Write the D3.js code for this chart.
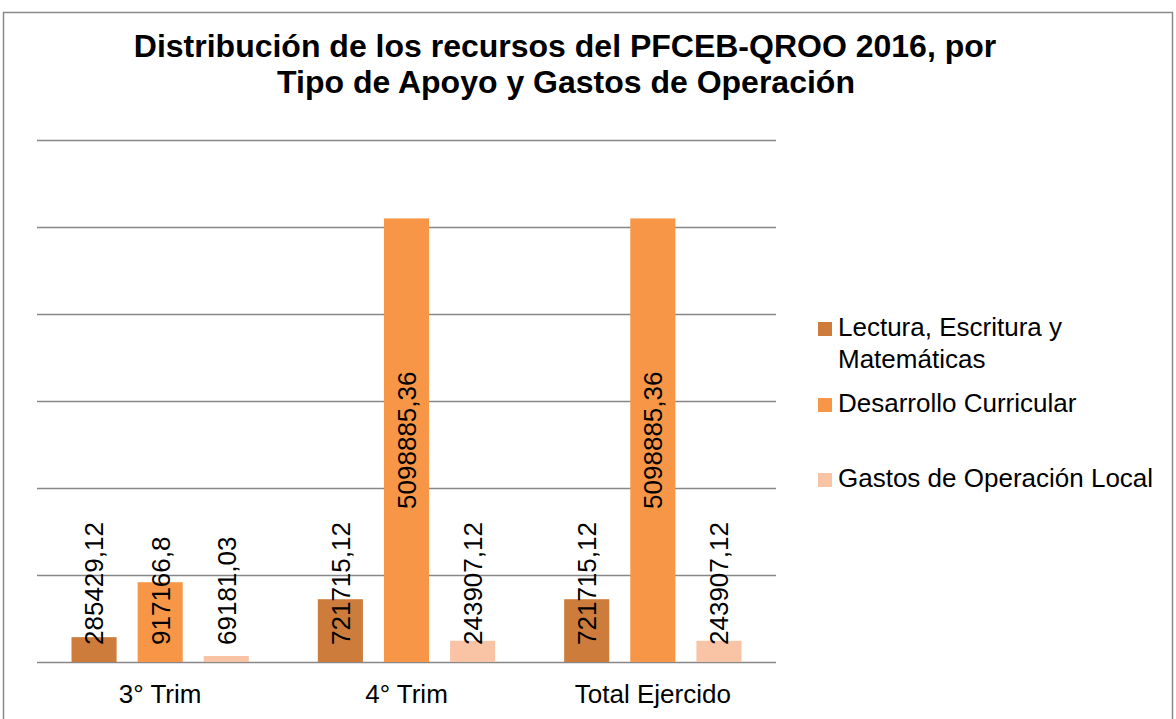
<!DOCTYPE html>
<html>
<head>
<meta charset="utf-8">
<script src="https://cdn.jsdelivr.net/npm/d3@7"></script>
<style>
  body { margin: 0; background: #fff; }
  text { font-family: Arial, "Liberation Sans", sans-serif; fill: #000; }
</style>
</head>
<body>
<div id="chart"></div>
<script>
var width = 1176,
    height = 719;

// data
var categories = ["3° Trim", "4° Trim", "Total Ejercido"];
var seriesNames = ["Lectura, Escritura y Matemáticas", "Desarrollo Curricular", "Gastos de Operación Local"];
var lectura = [285429.12, 721715.12, 721715.12];
var desarrollo = [917166.8, 5098885.36, 5098885.36];
var gastos = [69181.03, 243907.12, 243907.12];
var yTicks = [0, 1000000, 2000000, 3000000, 4000000, 5000000, 6000000];
var colors = ["#CD7C3C", "#F79646", "#F9C3A6"];

var values = [lectura, desarrollo, gastos];
var rows = categories.map(function(c, i) {
  return { cat: c, vals: seriesNames.map(function(s, j) { return { series: s, idx: j, v: values[j][i] }; }) };
});

var plot = { left: 37, right: 776, top: 140, bottom: 662 };

var svg = d3.select("#chart").append("svg")
  .attr("width", width)
  .attr("height", height);

// outer frame
svg.append("rect")
  .attr("x", 3.5).attr("y", 12.5)
  .attr("width", 1169).attr("height", 720)
  .attr("fill", "none")
  .attr("stroke", "#8a8a8a")
  .attr("stroke-width", 1.5);

// title
var title = svg.append("text")
  .attr("text-anchor", "middle")
  .style("font-weight", "bold")
  .style("font-size", "32px");
title.append("tspan").attr("x", 565).attr("y", 57).text("Distribución de los recursos del PFCEB-QROO 2016, por");
title.append("tspan").attr("x", 566).attr("y", 93).text("Tipo de Apoyo y Gastos de Operación");

var x0 = d3.scaleBand()
  .domain(categories)
  .range([plot.left, plot.right])
  .padding(0);

var x1 = d3.scaleBand()
  .domain(seriesNames)
  .range([34.5, x0.bandwidth() - 34.5])
  .paddingInner(0.318);

var y = d3.scaleLinear()
  .domain([0, 6000000])
  .range([plot.bottom, plot.top]);

// gridlines
var grid = svg.append("g")
  .attr("transform", "translate(" + plot.left + ",0)")
  .call(d3.axisLeft(y).tickValues(yTicks).tickSize(-(plot.right - plot.left)).tickFormat(""));
grid.select(".domain").remove();
grid.selectAll(".tick line")
  .attr("stroke", "#878787")
  .attr("stroke-width", 1.5);

// bars
var groups = svg.append("g").selectAll("g")
  .data(rows)
  .enter().append("g")
  .attr("transform", function(d) { return "translate(" + x0(d.cat) + ",0)"; });

groups.selectAll("rect")
  .data(function(d) { return d.vals; })
  .enter().append("rect")
  .attr("x", function(d) { return x1(d.series); })
  .attr("y", function(d) { return y(d.v); })
  .attr("width", x1.bandwidth())
  .attr("height", function(d) { return y(0) - y(d.v); })
  .attr("fill", function(d) { return colors[d.idx]; });

// value labels, rotated, centred in the bar but kept above the axis
groups.selectAll("text.val")
  .data(function(d) { return d.vals; })
  .enter().append("text")
  .attr("class", "val")
  .attr("text-anchor", "middle")
  .style("font-size", "26px")
  .text(function(d) { return String(d.v).replace(".", ","); })
  .each(function(d) {
    var len = this.getComputedTextLength();
    var cx = x1(d.series) + x1.bandwidth() / 2;
    var cy = Math.min((y(d.v) + y(0)) / 2, y(0) - 17 - len / 2);
    d3.select(this)
      .attr("dy", "0.36em")
      .attr("transform", "translate(" + cx + "," + cy + ") rotate(-90)");
  });

// category labels
svg.append("g").selectAll("text")
  .data(categories)
  .enter().append("text")
  .attr("x", function(d) { return x0(d) + x0.bandwidth() / 2; })
  .attr("y", 703)
  .attr("text-anchor", "middle")
  .style("font-size", "26px")
  .text(function(d) { return d; });

// legend
var legendRows = [
  { lines: ["Lectura, Escritura y", "Matemáticas"], y: 336 },
  { lines: ["Desarrollo Curricular"], y: 412 },
  { lines: ["Gastos de Operación Local"], y: 487 }
];
var legend = svg.append("g").selectAll("g")
  .data(legendRows)
  .enter().append("g");

legend.append("rect")
  .attr("x", 818)
  .attr("y", function(d) { return d.y - 14; })
  .attr("width", 14).attr("height", 14)
  .attr("fill", function(d, i) { return colors[i]; });

legend.append("text")
  .style("font-size", "26px")
  .each(function(d) {
    var t = d3.select(this);
    d.lines.forEach(function(l, k) {
      t.append("tspan").attr("x", 838).attr("y", d.y + k * 32).text(l);
    });
  });
</script>
</body>
</html>
